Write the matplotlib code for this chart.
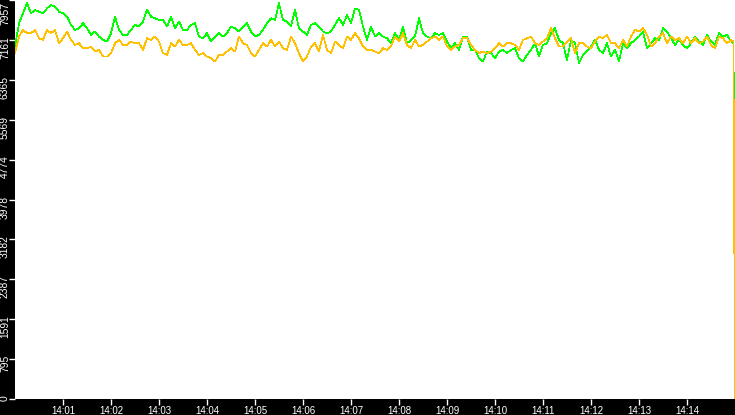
import matplotlib
matplotlib.use("Agg")
import matplotlib.pyplot as plt
import matplotlib.dates as mdates
import matplotlib.transforms as mtransforms
import numpy as np
import pandas as pd

# samples every 5 s from 14:00:00, then two closing readings
start = pd.Timestamp("2021-03-04 14:00:00")
step_s = 5
tail_s = [898, 900]

green = [
    # 14:00 - 14:02:30
    7029, 7493, 7692, 7900, 7692, 7758, 7725, 7692, 7791, 7857, 7824, 7725, 7692, 7625, 7460, 7360,
    7393, 7493, 7393, 7261, 7327, 7228, 7161, 7128, 7294, 7625, 7360, 7261, 7261, 7360,
    # 14:02:30 - 14:05
    7460, 7427, 7526, 7758, 7625, 7592, 7559, 7559, 7427, 7625, 7393, 7526, 7360, 7360, 7460, 7493,
    7228, 7195, 7294, 7128, 7228, 7294, 7228, 7294, 7427, 7393, 7327, 7427, 7493, 7327,
    # 14:05 - 14:07:30
    7228, 7261, 7360, 7493, 7592, 7559, 7891, 7559, 7526, 7427, 7758, 7393, 7327, 7261, 7460, 7493,
    7427, 7327, 7294, 7327, 7460, 7592, 7460, 7658, 7493, 7791, 7758, 7427, 7161, 7427,
    # 14:07:30 - 14:10
    7228, 7294, 7228, 7195, 7095, 7294, 7161, 7427, 7095, 7161, 7228, 7592, 7294, 7228, 7195, 7294,
    7261, 7294, 7128, 6995, 7095, 6962, 7228, 7228, 6962, 6962, 6797, 6730, 6929, 6896,
    # 14:10 - 14:12:30
    6797, 6929, 6962, 6896, 6962, 6995, 6797, 6730, 6863, 6962, 7095, 6830, 7062, 7095, 7294, 7393,
    7161, 7095, 6763, 7161, 7095, 6697, 6863, 6929, 7029, 7161, 6962, 6896, 7095, 6830,
    # 14:12:30 - 14:15
    6962, 6730, 7095, 6995, 7095, 7161, 7228, 7327, 6995, 7095, 7195, 7161, 7393, 7327, 7195, 7062,
    7161, 7062, 6995, 7095, 7228, 7128, 7062, 7261, 7128, 7062, 7294, 7228, 7261, 7128,
]
green_tail = [7095, 3420]

orange = [
    6896, 7228, 7360, 7294, 7294, 7360, 7195, 7161, 7360, 7294, 7360, 7095, 7195, 7327, 7161, 7062,
    7095, 6995, 6995, 7029, 6929, 6962, 6830, 6830, 6896, 7095, 7161, 7062, 7062, 7128,
    7095, 7095, 6962, 7195, 7161, 7228, 7128, 6896, 6863, 7095, 7029, 7161, 7062, 7062, 7095, 6962,
    6863, 6896, 6830, 6797, 6730, 6863, 6863, 6929, 6995, 6929, 7228, 7095, 7062, 6896,
    6830, 6962, 7095, 7029, 7161, 7029, 7128, 6995, 6962, 7228, 7095, 6896, 6730, 6830, 7029, 7095,
    6929, 7261, 6962, 6896, 7128, 7062, 6995, 7228, 7161, 7294, 7195, 7029, 6962, 6962,
    6929, 6896, 6995, 6962, 7029, 7228, 7128, 7294, 7062, 6995, 7161, 7029, 7062, 7128, 7195, 7228,
    7161, 7228, 7029, 6962, 7029, 7062, 7195, 7195, 7062, 6962, 6896, 6929, 6896, 6929,
    6995, 7095, 7029, 7095, 7095, 7062, 6962, 7161, 7195, 7228, 7095, 7062, 7128, 7195, 7393, 7195,
    7029, 7029, 7128, 7195, 6896, 7095, 7095, 7029, 6995, 7128, 7228, 7195, 7261, 7095,
    7095, 6995, 7161, 7029, 7228, 7360, 7327, 7393, 7261, 7029, 7095, 7228, 7294, 7095, 7228, 7161,
    7195, 7095, 7228, 7095, 7195, 7095, 7128, 7228, 7062, 6995, 7228, 7195, 7095, 7161,
]
orange_tail = [7128, 0]

y_ticks = [0, 795, 1591, 2387, 3182, 3978, 4774, 5569, 6365, 7161, 7957]
y_max = 7957

secs = np.concatenate([np.arange(len(green)) * step_s, tail_s])
times = start + pd.to_timedelta(secs, unit="s")

W, H = 735, 415
fig = plt.figure(figsize=(W / 100, H / 100), dpi=100, facecolor="black")
ax = fig.add_axes([15 / W, 16 / H, 720 / W, 399 / H])
ax.set_facecolor("white")
for s in ax.spines.values():
    s.set_visible(False)

ax.plot(times, green + green_tail, color="#00ff00", lw=0.5, antialiased=False)
ax.plot(times, orange + orange_tail, color="#ffc000", lw=0.5, antialiased=False)

ax.set_xlim(start, start + pd.Timedelta(minutes=15))
ax.set_ylim(0, y_max)

font = "Liberation Sans"
ax.xaxis.set_major_locator(mdates.MinuteLocator(byminute=range(1, 15)))
ax.xaxis.set_major_formatter(mdates.DateFormatter("%H:%M"))
ax.tick_params(axis="x", colors="white", length=4, width=1, pad=0.8,
               labelsize=7.0, direction="out")
for lab in ax.get_xticklabels():
    lab.set_fontfamily(font)

ax.set_yticks(y_ticks)
ax.tick_params(axis="y", colors="white", length=4, width=1, labelleft=False,
               direction="out")

# y labels run upward, top end a few px above the tick
for v in y_ticks:
    dy = 4 if v < y_max else -2
    off = mtransforms.ScaledTranslation(-5 / 100, dy / 100, fig.dpi_scale_trans)
    ax.text(0, v, str(v), transform=ax.get_yaxis_transform() + off,
            rotation=90, ha="right", va="top", color="white",
            fontsize=7.4, family=font)

fig.savefig("out.png", dpi=100, facecolor="black")
